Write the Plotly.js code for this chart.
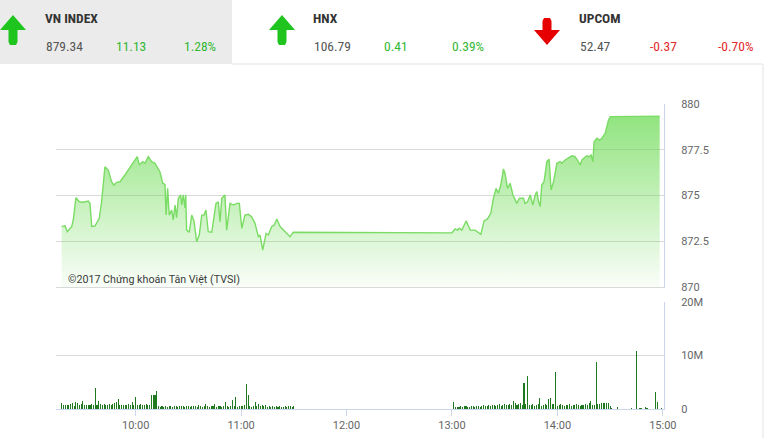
<!DOCTYPE html>
<html><head><meta charset="utf-8">
<script src="https://cdn.plot.ly/plotly-3.0.1.min.js"></script>
<style>html,body{margin:0;padding:0;background:#fff;overflow:hidden}#chart{width:766px;height:438px}</style>
</head><body><div id="chart"></div>
<script>
// ---------------- data ----------------
const DAY = '2017-11-06 ';
const priceTimes = [
 '09:17:54','09:19:45','09:21:06','09:23:36','09:24:30','09:26:00','09:27:54','09:30:12','09:33:00','09:34:00',
 '09:35:00','09:36:48','09:39:18','09:40:36','09:42:30','09:44:24','09:46:18','09:47:36','09:49:12','09:51:06',
 '09:53:54','09:56:48','09:58:36','10:00:54','10:02:06','10:04:00','10:05:18','10:07:12','10:09:06','10:11:00',
 '10:13:48','10:15:24','10:16:42','10:17:18','10:18:12','10:19:06','10:20:30','10:21:24','10:22:24','10:23:18',
 '10:24:18','10:25:36','10:26:12','10:27:06','10:28:06','10:28:30','10:29:00','10:30:30','10:31:54','10:33:12',
 '10:34:42','10:36:12','10:37:36','10:38:54','10:40:00','10:41:18','10:43:18','10:44:12','10:45:42','10:47:00',
 '10:48:00','10:49:00','10:50:48','10:51:48','10:53:42','10:55:36','10:57:30','10:59:00','11:00:24','11:02:12',
 '11:04:06','11:06:00','11:07:54','11:09:48','11:10:48','11:12:18','11:14:12','11:15:30','11:17:24','11:18:54',
 '11:20:18','11:22:12','11:24:00','11:26:00','11:27:48','11:29:42',
 '13:00:00','13:01:48','13:03:06','13:04:12','13:05:36','13:08:06','13:10:24','13:13:12','13:16:24','13:18:18',
 '13:20:12','13:22:06','13:23:36','13:25:06','13:26:24','13:27:48','13:29:18','13:30:12','13:31:36','13:33:06',
 '13:34:42','13:36:54','13:38:24','13:40:42','13:41:36','13:43:00','13:44:30','13:46:00','13:47:24','13:48:18',
 '13:49:12','13:50:12','13:51:06','13:52:24','13:54:00','13:55:18','13:56:24','13:57:48','13:59:42','14:01:36',
 '14:02:30','14:04:24','14:06:18','14:08:12','14:10:06','14:11:06','14:13:00','14:13:54','14:15:12','14:16:48',
 '14:18:06','14:19:12','14:20:12','14:20:54','14:22:30','14:24:00','14:25:18','14:27:12','14:29:06','14:30:06',
 '14:58:12'
];
const priceValues = [
 873.30,873.35,873.02,873.30,873.66,874.88,874.66,874.63,874.70,874.57,
 873.31,873.33,873.75,874.66,876.57,876.39,875.75,875.57,875.72,875.75,
 876.12,876.52,876.76,877.12,876.67,876.85,876.76,877.12,876.85,876.76,
 876.30,875.67,875.61,873.93,875.39,873.93,874.21,873.66,874.48,873.79,
 874.85,875.03,874.48,875.03,874.32,875.03,873.11,872.99,873.93,873.61,
 872.48,872.84,873.93,873.93,874.21,873.02,872.99,873.57,874.57,874.66,
 873.57,874.85,875.03,873.11,874.57,874.48,874.57,874.57,873.21,873.93,
 873.97,873.84,873.48,872.75,872.84,872.02,872.93,872.84,873.30,873.39,
 873.72,873.30,873.11,872.93,872.75,872.99,
 872.96,873.17,873.11,873.21,873.11,873.61,873.11,873.11,872.88,873.61,
 873.72,874.03,874.85,875.39,875.12,875.57,876.45,876.21,875.39,875.67,
 875.03,874.57,874.85,874.85,874.57,874.66,875.03,874.48,875.03,875.21,
 874.70,874.39,875.57,875.75,876.85,876.98,875.30,875.75,876.76,876.85,
 876.76,876.94,877.07,877.17,877.12,876.94,876.67,876.94,877.03,877.17,
 877.12,877.21,876.85,877.94,878.13,878.03,878.13,878.40,879.13,879.31,
 879.34
];
// volume in millions of shares, one bar per minute
const amStart = '09:18';
const amVolume = [
 1.06,0.8,0.75,0.8,0.7,0.85,1.2,0.6,1.4,1.06,
 0.7,0.9,1.5,0.8,0.75,0.8,0.8,0.85,0.8,4.0,
 0.8,1.5,0.9,0.7,0.85,0.8,0.75,0.9,0.8,0.9,
 1.1,1.4,1.9,0.8,0.7,0.75,0.8,0.7,0.85,0.8,
 1.4,0.8,2.3,0.75,0.8,0.85,0.7,0.8,0.9,0.75,
 0.7,2.6,2.6,2.6,3.4,0.5,0.45,0.5,0.4,0.5,
 0.45,0.55,0.5,0.45,0.6,0.5,0.45,0.55,0.5,0.6,
 0.45,0.5,0.55,0.45,0.6,0.5,0.5,0.45,0.7,0.5,
 0.45,0.55,0.9,0.5,0.45,0.6,0.5,0.9,0.45,0.5,
 0.55,0.45,0.6,1.4,0.5,0.45,0.6,1.7,0.5,2.3,
 0.45,0.5,0.6,0.55,0.7,4.7,2.6,0.5,0.45,0.55,
 1.4,0.5,0.9,0.6,0.75,0.5,0.75,0.45,0.55,0.4,
 0.5,0.45,0.6,0.4,0.5,0.45,0.35,0.5,0.4,0.55,
 0.5,0.45,0.5
];
const pmStart = '13:01';
const pmVolume = [
 1.4,0.35,0.45,0.4,0.5,0.45,0.55,0.6,0.45,0.4,
 0.5,0.55,0.45,0.6,0.5,0.45,0.55,0.7,0.5,0.6,
 0.75,0.5,0.7,0.8,0.6,0.75,0.9,0.6,0.7,0.85,
 0.8,0.7,0.9,0.75,1.5,1.2,0.8,0.9,1.2,0.7,
 4.9,0.9,6.25,0.8,0.7,0.9,0.6,0.75,0.9,2.1,
 0.6,0.8,0.9,0.75,1.9,2.1,0.9,1.0,7.0,0.6,
 0.8,0.9,0.75,0.6,0.8,0.7,0.9,0.6,0.8,0.7,
 0.9,0.75,0.6,0.8,0.7,0.9,0.75,1.2,1.5,0.8,
 0.7,8.7,1.0,0.9,1.1,1.1,1.1,1.1,1.1,0.5,
 0.25,0,0,0.4
];
const lateTimes = ['14:42','14:45','14:47','14:48','14:50','14:51','14:56','14:57','14:59'];
const lateVolume = [0.15,10.9,0.2,0.2,0.4,0.2,3.25,1.4,0.15];

const priceTicks = [870, 872.5, 875, 877.5, 880];
const priceTickText = ['870','872.5','875','877.5','880'];
const volTicks = [0, 10, 20];
const volTickText = ['0','10M','20M'];
const hourTicks = ['10:00','11:00','12:00','13:00','14:00','15:00'];

const indexNames = ['VN INDEX','HNX','UPCOM'];
const indexValues = ['879.34','106.79','52.47'];
const indexChanges = ['11.13','0.41','-0.37'];
const indexPercents = ['1.28%','0.39%','-0.70%'];
const indexUp = [true, true, false];
const watermark = '©2017 Chứng khoán Tân Việt (TVSI)';

// ---------------- build ----------------
const W = 766, H = 438;
const px = x => x / W;
const py = y => 1 - y / H;
function minuteStamp(start, i) {
  const [h, m] = start.split(':').map(Number);
  const t = h * 60 + m + i;
  const hh = String(Math.floor(t / 60)).padStart(2, '0');
  const mm = String(t % 60).padStart(2, '0');
  return DAY + hh + ':' + mm + ':00';
}
const volX = [], volY = [];
amVolume.forEach((v, i) => { volX.push(minuteStamp(amStart, i)); volY.push(v); });
pmVolume.forEach((v, i) => { volX.push(minuteStamp(pmStart, i)); volY.push(v); });
lateTimes.forEach((t, i) => { volX.push(DAY + t + ':00'); volY.push(lateVolume[i]); });

const priceTrace = {
  type: 'scatter', mode: 'lines',
  x: priceTimes.map(t => DAY + t), y: priceValues,
  xaxis: 'x', yaxis: 'y',
  line: { color: 'rgb(122,220,100)', width: 1.4 },
  fill: 'tozeroy',
  fillgradient: { type: 'vertical', start: 880, stop: 870,
    colorscale: [[0, 'rgba(105,218,80,0.78)'], [1, 'rgba(105,218,80,0.04)']] },
  hoverinfo: 'skip'
};
const volTrace = {
  type: 'bar', x: volX, y: volY, xaxis: 'x2', yaxis: 'y2',
  marker: { color: '#1f7a1f', line: { width: 0 } }, width: 36000, hoverinfo: 'skip'
};

const FONT = 'Roboto, "Open Sans", sans-serif';
const HFONT = '"Roboto Condensed", "Liberation Sans Narrow", "DejaVu Sans Condensed", Roboto, sans-serif';
const GREEN = '#33b833', RED = '#e3262c';
const xDomain = [px(56), px(664)];
const xRange = [DAY + '09:14:40', DAY + '15:00:40'];

const annotations = [];
const blockX = [44, 312, 578];
const colOff = [0, 70, 138];
indexNames.forEach((n, i) => {
  const col = indexUp[i] ? GREEN : RED;
  annotations.push({ text: '<b>' + n + '</b>', x: px(blockX[i] - 1), y: py(18), xref: 'paper', yref: 'paper',
    xanchor: 'left', yanchor: 'middle', showarrow: false, font: { family: HFONT, size: 13.5, color: '#333' } });
  annotations.push({ text: indexValues[i], x: px(blockX[i] + colOff[0]), y: py(46), xref: 'paper', yref: 'paper',
    xanchor: 'left', yanchor: 'middle', showarrow: false, font: { family: HFONT, size: 13.5, color: '#555' } });
  annotations.push({ text: indexChanges[i], x: px(blockX[i] + colOff[1]), y: py(46), xref: 'paper', yref: 'paper',
    xanchor: 'left', yanchor: 'middle', showarrow: false, font: { family: HFONT, size: 13.5, color: col } });
  annotations.push({ text: indexPercents[i], x: px(blockX[i] + colOff[2]), y: py(46), xref: 'paper', yref: 'paper',
    xanchor: 'left', yanchor: 'middle', showarrow: false, font: { family: HFONT, size: 13.5, color: col } });
});
annotations.push({ text: watermark, x: px(66), y: py(279), xref: 'paper', yref: 'paper',
  xanchor: 'left', yanchor: 'middle', showarrow: false, font: { family: FONT, size: 10.7, color: '#3a3a3a' } });

function pathOf(pts) {
  return pts.map((p, i) => (i ? 'L' : 'M') + px(p[0]).toFixed(5) + ',' + py(p[1]).toFixed(5)).join(' ') + ' Z';
}
function upArrow(cx) {
  return pathOf([[cx, 15], [cx + 13, 30], [cx + 4.5, 30], [cx + 4.5, 42], [cx + 3, 45], [cx - 3, 45], [cx - 4.5, 42], [cx - 4.5, 30], [cx - 13, 30]]);
}
function downArrow(cx) {
  return pathOf([[cx, 45], [cx + 13, 30], [cx + 4.5, 30], [cx + 4.5, 21], [cx + 3, 18], [cx - 3, 18], [cx - 4.5, 21], [cx - 4.5, 30], [cx - 13, 30]]);
}
const shapes = [
  { type: 'rect', xref: 'paper', yref: 'paper', x0: 0, x1: px(232), y0: py(64), y1: 1, fillcolor: '#ebebeb', line: { width: 0 }, layer: 'below' },
  { type: 'line', xref: 'paper', yref: 'paper', x0: px(232), x1: px(763), y0: py(64), y1: py(64), line: { color: '#e4e4e4', width: 1 } },
  { type: 'line', xref: 'paper', yref: 'paper', x0: px(763), x1: px(763), y0: py(64), y1: 0, line: { color: '#e4e4e4', width: 1 } },
  { type: 'path', xref: 'paper', yref: 'paper', path: upArrow(13), fillcolor: '#1fc41f', line: { width: 0 } },
  { type: 'path', xref: 'paper', yref: 'paper', path: upArrow(282), fillcolor: '#1fc41f', line: { width: 0 } },
  { type: 'path', xref: 'paper', yref: 'paper', path: downArrow(547), fillcolor: '#e60000', line: { width: 0 } }
];

const layout = {
  width: W, height: H, margin: { l: 0, r: 0, t: 0, b: 0 },
  paper_bgcolor: '#ffffff', plot_bgcolor: 'rgba(0,0,0,0)',
  showlegend: false, bargap: 0,
  font: { family: FONT, size: 11, color: '#666' },
  xaxis: { domain: xDomain, anchor: 'y', type: 'date', range: xRange, showticklabels: false,
    showgrid: false, zeroline: false, showline: true, linecolor: '#d9d9d9', linewidth: 1, ticks: '', fixedrange: true },
  yaxis: { domain: [py(287), py(104)], anchor: 'x', side: 'right', range: [870, 880],
    tickmode: 'array', tickvals: priceTicks, ticktext: priceTickText,
    showgrid: true, gridcolor: '#d9d9d9', gridwidth: 1, zeroline: false,
    showline: true, linecolor: '#ccd6eb', linewidth: 1, ticks: '', ticklabelstandoff: 14,
    tickfont: { family: FONT, size: 11, color: '#666' }, fixedrange: true },
  xaxis2: { domain: xDomain, anchor: 'y2', type: 'date', matches: 'x', range: xRange,
    tickmode: 'array', tickvals: hourTicks.map(t => DAY + t), ticktext: hourTicks,
    ticks: 'outside', ticklen: 6, tickcolor: '#ccd6eb', tickwidth: 1,
    showline: true, linecolor: '#ccd6eb', linewidth: 1, showgrid: false, zeroline: false,
    tickfont: { family: FONT, size: 11, color: '#666' }, fixedrange: true },
  yaxis2: { domain: [py(409), py(302)], anchor: 'x2', side: 'right', range: [0, 20],
    tickmode: 'array', tickvals: volTicks, ticktext: volTickText,
    showgrid: true, gridcolor: '#d9d9d9', gridwidth: 1, zeroline: false,
    showline: true, linecolor: '#ccd6eb', linewidth: 1, ticks: '', ticklabelstandoff: 14,
    tickfont: { family: FONT, size: 11, color: '#666' }, fixedrange: true },
  annotations: annotations,
  shapes: shapes
};

Plotly.newPlot('chart', [priceTrace, volTrace], layout, { displayModeBar: false, staticPlot: true });
</script></body></html>
